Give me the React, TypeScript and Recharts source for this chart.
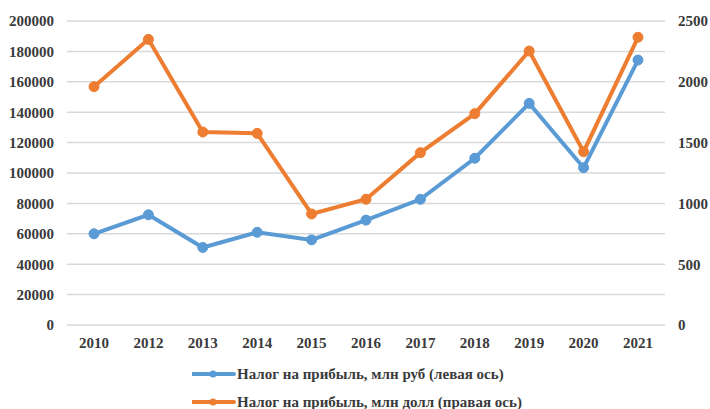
import React from "react";
import { LineChart, Line, XAxis, YAxis, CartesianGrid, Legend } from "recharts";

const years = ["2010", "2012", "2013", "2014", "2015", "2016", "2017", "2018", "2019", "2020", "2021"];
const rubValues = [60000, 72500, 51000, 61000, 56000, 69000, 82700, 109700, 145800, 103500, 174300];
const usdValues = [1960, 2349, 1587, 1576, 913, 1034, 1417, 1738, 2253, 1425, 2366];
const leftTicks = [0, 20000, 40000, 60000, 80000, 100000, 120000, 140000, 160000, 180000, 200000];
const rightTicks = [0, 500, 1000, 1500, 2000, 2500];
const rubName = "Налог на прибыль, млн руб (левая ось)";
const usdName = "Налог на прибыль, млн долл (правая ось)";

const BLUE = "#5b9bd5";
const ORANGE = "#ed7d31";
const FONT = "'Liberation Serif', 'Times New Roman', serif";
const TEXT = "#3a3a3a";

const data = years.map((y, i) => ({ year: y, rub: rubValues[i], usd: usdValues[i] }));

const tickStyle = { fontFamily: FONT, fontSize: 15, fontWeight: 700, fill: TEXT };

const LegendContent = () => {
  const items = [
    { name: rubName, color: BLUE },
    { name: usdName, color: ORANGE },
  ];
  return (
    <div style={{ height: 50, marginLeft: 192, position: "relative" }}>
      {items.map((it, i) => (
        <div
          key={i}
          style={{
            position: "absolute",
            top: 1 + i * 28,
            left: 0,
            height: 28,
            display: "flex",
            alignItems: "center",
            whiteSpace: "nowrap",
          }}
        >
          <svg width={44} height={10} style={{ marginRight: 1 }}>
            <line x1={0} y1={5} x2={42} y2={5} stroke={it.color} strokeWidth={4} strokeLinecap="round" />
            <circle cx={21} cy={5} r={3.5} fill={it.color} />
          </svg>
          <span style={{ fontFamily: FONT, fontSize: 15, fontWeight: 700, color: TEXT }}>{it.name}</span>
        </div>
      ))}
    </div>
  );
};

export default function App() {
  return (
    <div style={{ position: "absolute", left: 0, top: 0 }}>
      <LineChart width={710} height={409} data={data} margin={{ top: 21, right: 0, bottom: 0, left: 0 }}>
        <CartesianGrid yAxisId="left" vertical={false} stroke="#d9d9d9" strokeWidth={1.5} />
        <XAxis
          dataKey="year"
          axisLine={false}
          tickLine={false}
          tick={tickStyle}
          tickMargin={6}
          height={34}
          padding={{ left: 27, right: 27 }}
          interval={0}
        />
        <YAxis
          yAxisId="left"
          width={67}
          domain={[0, 200000]}
          ticks={leftTicks}
          axisLine={false}
          tickLine={false}
          tick={tickStyle}
          tickMargin={7}
          interval={0}
        />
        <YAxis
          yAxisId="right"
          orientation="right"
          width={45}
          domain={[0, 2500]}
          ticks={rightTicks}
          axisLine={false}
          tickLine={false}
          tick={{ ...tickStyle, textAnchor: "start" }}
          tickMargin={7}
          interval={0}
        />
        <Legend verticalAlign="bottom" wrapperStyle={{ left: 0, width: 710 }} content={<LegendContent />} />
        <Line
          yAxisId="left"
          dataKey="rub"
          name={rubName}
          stroke={BLUE}
          strokeWidth={4}
          dot={{ r: 5, fill: BLUE, stroke: BLUE, strokeWidth: 1 }}
          activeDot={false}
          isAnimationActive={false}
        />
        <Line
          yAxisId="right"
          dataKey="usd"
          name={usdName}
          stroke={ORANGE}
          strokeWidth={4}
          dot={{ r: 5, fill: ORANGE, stroke: ORANGE, strokeWidth: 1 }}
          activeDot={false}
          isAnimationActive={false}
        />
      </LineChart>
    </div>
  );
}
